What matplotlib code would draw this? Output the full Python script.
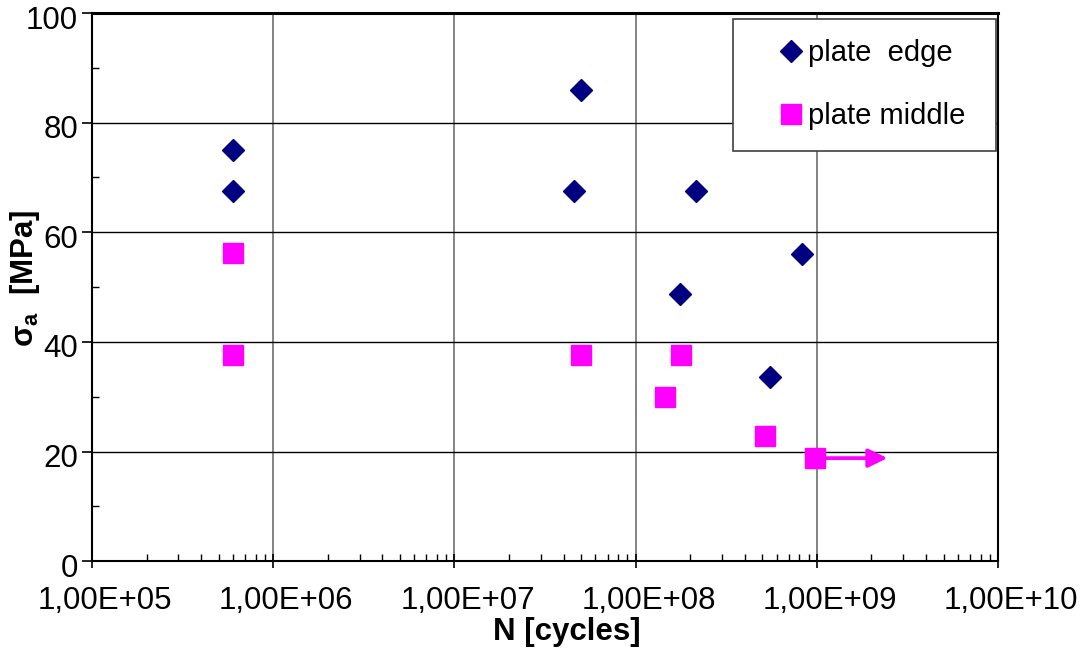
import numpy as np
import matplotlib.pyplot as plt
import matplotlib.transforms as mtransforms
from matplotlib.ticker import FixedLocator, FuncFormatter, LogLocator, NullFormatter

plt.rcParams['font.family'] = ['Liberation Sans', 'DejaVu Sans']
plt.rcParams['mathtext.fontset'] = 'custom'
plt.rcParams['mathtext.rm'] = 'Liberation Sans'
plt.rcParams['mathtext.bf'] = 'Liberation Sans:bold'

# plate edge (diamonds)
edge_N = [6.0e5, 6.0e5, 5.0e7, 4.55e7, 2.15e8, 1.76e8, 5.5e8, 8.25e8]
edge_s = [75.0, 67.5, 86.0, 67.5, 67.5, 48.8, 33.6, 56.0]

# plate middle (squares)
mid_N = [6.0e5, 6.0e5, 5.0e7, 1.77e8, 1.45e8, 5.15e8, 9.8e8]
mid_s = [56.3, 37.7, 37.7, 37.7, 30.0, 22.8, 18.8]

# run-out arrow
runout_start = (9.8e8, 18.8)
runout_end = (2.45e9, 18.8)

xticks = [1e5, 1e6, 1e7, 1e8, 1e9, 1e10]
yticks = [0, 20, 40, 60, 80, 100]

fig = plt.figure(figsize=(10.8, 6.51), dpi=100)
ax = fig.add_axes([0.0852, 0.138, 0.839, 0.842])

ax.set_xscale('log')
ax.set_xlim(1e5, 1e10)
ax.set_ylim(0, 100)

ax.xaxis.set_major_locator(FixedLocator(xticks))
ax.xaxis.set_major_formatter(FuncFormatter(lambda v, p: ('%.2E' % v).replace('.', ',')))
ax.xaxis.set_minor_locator(LogLocator(base=10, subs=np.arange(2, 10)))
ax.xaxis.set_minor_formatter(NullFormatter())
ax.yaxis.set_major_locator(FixedLocator(yticks))
ax.yaxis.set_minor_locator(FixedLocator([10, 30, 50, 70, 90]))

ax.tick_params(which='major', direction='out', length=7, width=1.2, labelsize=22.5, pad=3)
ax.tick_params(which='minor', direction='in', length=5, width=1.0)
ax.tick_params(axis='x', which='major', direction='inout', length=10, pad=13)

# excel-like label placement: x labels a bit right, y labels a bit low
dx = mtransforms.ScaledTranslation(13 / 100, 0, fig.dpi_scale_trans)
for lab in ax.get_xticklabels():
    lab.set_transform(lab.get_transform() + dx)
dy = mtransforms.ScaledTranslation(0, -4 / 100, fig.dpi_scale_trans)
for lab in ax.get_yticklabels():
    lab.set_transform(lab.get_transform() + dy)

ax.grid(True, axis='x', which='major', color='#707070', lw=1.2)
ax.grid(True, axis='y', which='major', color='black', lw=1.0)
for s in ax.spines.values():
    s.set_linewidth(1.5)
ax.spines['top'].set_linewidth(2.2)

ax.plot(edge_N, edge_s, linestyle='none', marker='D', ms=11.5, color='#000080',
        label='plate  edge', zorder=3)
ax.plot(mid_N, mid_s, linestyle='none', marker='s', ms=14.5, color='#FF00FF',
        label='plate middle', zorder=3)

ax.annotate('', xy=runout_end, xytext=runout_start,
            arrowprops=dict(arrowstyle='-|>,head_length=1.15,head_width=0.56',
                            color='#FF00FF', lw=2.7, shrinkA=0, shrinkB=0), zorder=2)

ax.set_xlabel('N [cycles]', fontsize=22.5, fontweight='bold')
ax.xaxis.set_label_coords(0.524, -0.102)
ax.set_ylabel(r'$\mathbf{\sigma_a}$  [MPa]', fontsize=22.5, fontweight='bold')
ax.yaxis.set_label_coords(-0.055, 0.516)

leg = ax.legend(loc='upper left', bbox_to_anchor=(0.7075, 0.0, 0.2903, 0.989), mode='expand',
                fontsize=21, frameon=True, fancybox=False, edgecolor='#404040', framealpha=1,
                handletextpad=-0.74, labelspacing=1.2, borderpad=0.7, borderaxespad=0,
                handlelength=2.6)
leg.get_frame().set_linewidth(1.2)

fig.savefig('out.png', dpi=100)
